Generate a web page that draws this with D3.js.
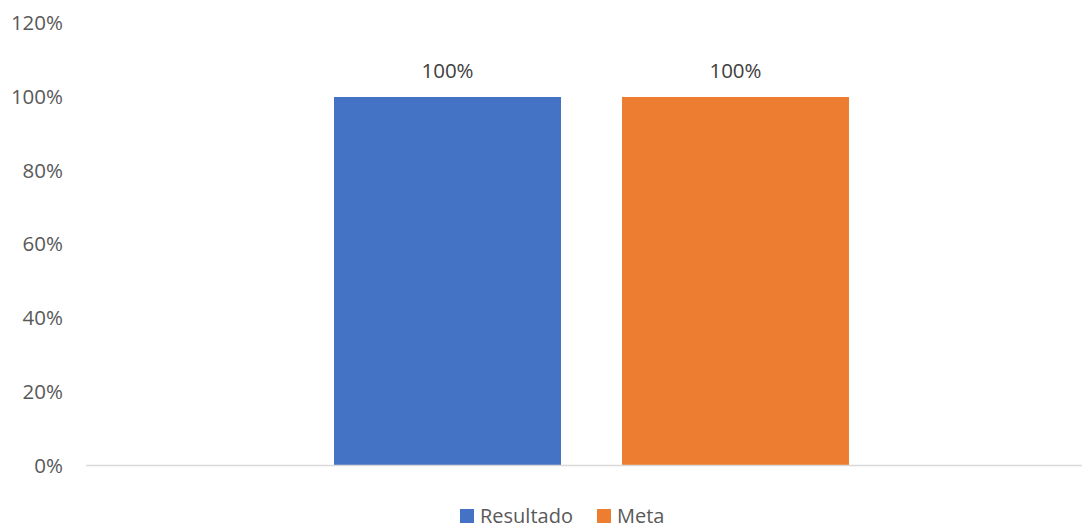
<!DOCTYPE html>
<html>
<head>
<meta charset="utf-8">
<script src="https://cdn.jsdelivr.net/npm/d3@7"></script>
<style>
  html, body { margin: 0; padding: 0; background: #ffffff; }
  svg { display: block; font-family: "Open Sans", "Noto Sans", sans-serif; }
</style>
</head>
<body>
<svg id="chart" width="1083" height="528"></svg>
<script>
// Chart data
const categories = [""];
const seriesNames = ["Resultado", "Meta"];
const resultadoValues = [1.0];
const metaValues = [1.0];
const yTickValues = [0, 0.2, 0.4, 0.6, 0.8, 1.0, 1.2];
const seriesColors = ["#4472C4", "#ED7D31"];

const seriesValues = [resultadoValues, metaValues];
const rows = categories.map((c, i) => ({
  category: c,
  values: seriesNames.map((s, j) => ({ series: s, value: seriesValues[j][i], color: seriesColors[j] }))
}));

const svg = d3.select("#chart");

// Plot area
const plotLeft = 86, plotRight = 1097, plotBottom = 465.5, plotTop = 23.3;

const y = d3.scaleLinear().domain([0, 1.2]).range([plotBottom, plotTop]);

const x0 = d3.scaleBand()
  .domain(categories)
  .range([plotLeft, plotRight])
  .paddingInner(0)
  .paddingOuter(0.4816);

const x1 = d3.scaleBand()
  .domain(seriesNames)
  .range([0, x0.bandwidth()])
  .paddingInner(0.2118)
  .paddingOuter(0);

// Y axis labels (no axis line, no gridlines)
const yAxis = d3.axisLeft(y)
  .tickValues(yTickValues)
  .tickFormat(d3.format(".0%"))
  .tickSize(0)
  .tickPadding(0);

const yAxisG = svg.append("g")
  .attr("transform", "translate(63,0)")
  .call(yAxis);
yAxisG.select(".domain").remove();
yAxisG.selectAll("text")
  .attr("fill", "#595959")
  .attr("font-size", 20.5)
  .attr("font-family", "\"Open Sans\", sans-serif");

// Bars
const groups = svg.append("g")
  .selectAll("g")
  .data(rows)
  .join("g")
  .attr("transform", d => `translate(${x0(d.category)},0)`);

groups.selectAll("rect")
  .data(d => d.values)
  .join("rect")
  .attr("x", d => x1(d.series))
  .attr("width", x1.bandwidth())
  .attr("y", d => y(d.value))
  .attr("height", d => y(0) - y(d.value))
  .attr("fill", d => d.color);

// Data labels
groups.selectAll("text.label")
  .data(d => d.values)
  .join("text")
  .attr("class", "label")
  .attr("x", d => x1(d.series) + x1.bandwidth() / 2)
  .attr("y", d => y(d.value) - 19)
  .attr("text-anchor", "middle")
  .attr("fill", "#404040")
  .attr("font-size", 20.5)
  .text(d => d3.format(".0%")(d.value));

// Category axis baseline
svg.append("line")
  .attr("x1", plotLeft)
  .attr("x2", 1082)
  .attr("y1", y(0))
  .attr("y2", y(0))
  .attr("stroke", "#D9D9D9")
  .attr("stroke-width", 1.5);

// Legend
const legendItems = [
  { name: seriesNames[0], color: seriesColors[0], x: 460 },
  { name: seriesNames[1], color: seriesColors[1], x: 597 }
];
const legend = svg.append("g");
const li = legend.selectAll("g")
  .data(legendItems)
  .join("g")
  .attr("transform", d => `translate(${d.x},0)`);
li.append("rect")
  .attr("x", 0)
  .attr("y", 509)
  .attr("width", 14)
  .attr("height", 14)
  .attr("fill", d => d.color);
li.append("text")
  .attr("x", 20)
  .attr("y", 522.5)
  .attr("fill", "#595959")
  .attr("font-size", 20)
  .text(d => d.name);
</script>
</body>
</html>
